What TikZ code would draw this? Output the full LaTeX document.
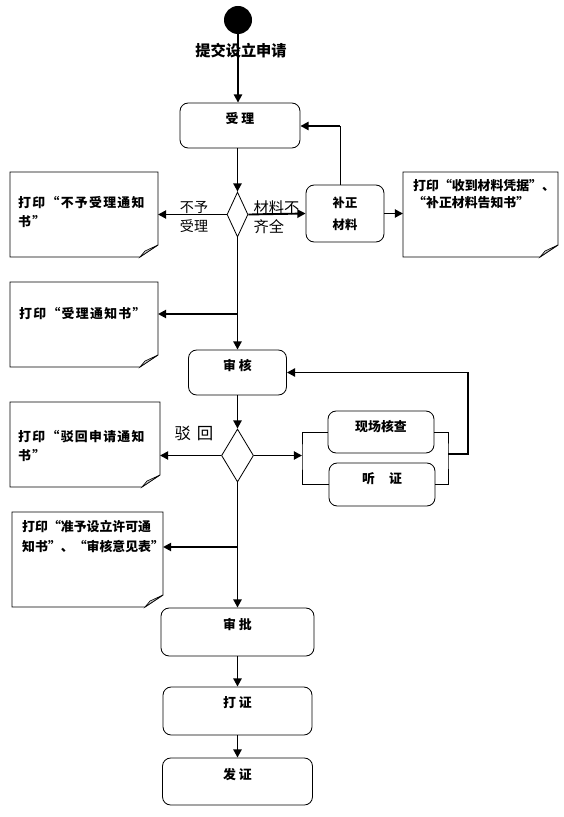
\documentclass[tikz,border=0pt]{standalone}
\usepackage{fontspec}
\setmainfont{Noto Sans CJK SC}
\newfontfamily\doctext[LetterSpace=10]{Noto Sans CJK SC}
\newfontfamily\doctight{Noto Sans CJK SC}
\usetikzlibrary{shapes.geometric, arrows.meta, calc}

\tikzset{
	box/.style={draw, line width=0.7pt, rounded corners=7pt, inner sep=0pt, font=\bfseries\fontsize{11}{13}\selectfont},
	proc/.style={box, text depth=#1},
	proc/.default=0.48cm,
	choice/.style={draw, diamond, line width=0.7pt, inner sep=0pt},
	arr/.style={line width=1.6pt, -{Triangle[length=7pt,width=7pt]}},
	thinline/.style={line width=0.8pt},
	doctxt/.style={anchor=north west, inner sep=0pt, align=left, font=\doctext\bfseries\fontsize{11}{16}\selectfont},
	doctxttight/.style={doctxt, font=\doctight\bfseries\fontsize{11}{#1}\selectfont},
}

\newcommand{\printdoc}[2]{%
	\draw[line width=0.7pt] (#1) -- (#1 -| #2) -- ($(#2)+(0,-12)$) -- ($(#2)+(-18,0)$) -- (#1 |- #2) -- cycle;
	\draw[line width=0.5pt, fill=gray!45] ($(#2)+(0,-12)$) -- ($(#2)+(-18,0)$) -- ($(#2)+(-13,-6)$) -- cycle;
}

\begin{document}
\begin{tikzpicture}[x=0.03cm, y=-0.03cm]
		\useasboundingbox (0,0) rectangle (563,817);
		
		\node[circle, fill, minimum size=0.84cm, inner sep=0pt] (start) at (238,20) {};
		\node[font=\bfseries\fontsize{13}{15}\selectfont] (apply) at (241,51) {提交设立申请};
		\node[proc, minimum width=3.6cm, minimum height=1.35cm] (shouli) at (240,125.5) {受\ 理};
		\node[choice, minimum width=0.63cm, minimum height=1.35cm] (dia1) at (237.5,214.5) {};
		\node[box, minimum width=2.34cm, minimum height=1.71cm, align=center, font=\bfseries\fontsize{10.5}{18.7}\selectfont] (buzheng) at (345,213.5) {补正\\材料};
		\node[font=\fontsize{12}{16}\selectfont, align=center] (refuse) at (194,217) {不予\\受理};
		\node[font=\fontsize{13}{16}\selectfont, align=left] (lack) at (276.5,217) {材料不\\齐全};
		
		\coordinate (d1tl) at (10,172);  \coordinate (d1br) at (158,257);
		\coordinate (d2tl) at (10,282);  \coordinate (d2br) at (158,367);
		\coordinate (d3tl) at (403,172); \coordinate (d3br) at (558,257);
		\coordinate (d4tl) at (10,402);  \coordinate (d4br) at (160,487);
		\coordinate (d5tl) at (12,512);  \coordinate (d5br) at (163,607);
		\printdoc{d1tl}{d1br}
		\printdoc{d2tl}{d2br}
		\printdoc{d3tl}{d3br}
		\printdoc{d4tl}{d4br}
		\printdoc{d5tl}{d5br}
		\node[doctxt] (t1) at (18,196.5) {打印“不予受理通知\\书”};
		\node[doctxt] (t2) at (19,307.5) {打印“受理通知书”};
		\node[doctxttight=14.5] (t3) at (413,179.5) {打印“收到材料凭据”、\\“补正材料告知书”};
		\node[doctxt] (t4) at (18,430.5) {打印“驳回申请通知\\书”};
		\node[doctxttight=16.5] (t5) at (22,520.5) {打印“准予设立许可通\\知书”、“审核意见表”};
		
		\node[proc=0.44cm, minimum width=2.94cm, minimum height=1.35cm] (shenhe) at (237.5,372.5) {审\ 核};
		\node[choice, minimum width=0.96cm, minimum height=1.59cm] (dia2) at (237.5,455.5) {};
		\node[font=\fontsize{14}{16}\selectfont] (reject) at (194,433) {驳\hspace{0.35em}回};
		\node[proc=0.36cm, minimum width=3.18cm, minimum height=1.26cm] (xianchang) at (381,432) {现场核查};
		\node[proc=0.4cm, minimum width=3.18cm, minimum height=1.29cm] (tingzheng) at (382,484.5) {听\hspace{1.1em}证};
		\node[proc=0.47cm, minimum width=4.59cm, minimum height=1.44cm] (shenpi) at (237.5,632) {审\ 批};
		\node[proc=0.53cm, minimum width=4.47cm, minimum height=1.44cm] (dazheng) at (237.5,711) {打\ 证};
		\node[proc=0.44cm, minimum width=4.5cm, minimum height=1.41cm] (fazheng) at (237.5,781.5) {发\ 证};
		
		\coordinate (fb1) at (340,126);
		\coordinate (b1) at (237.5,314);
		\coordinate (bl) at (302,455.5);
		\coordinate (br) at (448,454);
		\coordinate (fb2) at (468,454);
		\coordinate (b2) at (237.5,547);
		
		\draw[arr] (start.south) -- (start.south |- shouli.north);
		\draw[arr] (dia1 |- shouli.south) -- (dia1.north);
		\draw[arr] (dia1.west) -- (dia1.west -| d1br);
		\draw[arr] (dia1.east) -- (buzheng.west);
		\draw[arr] (buzheng.east) -- (buzheng.east -| d3tl);
		\draw[thinline] (fb1 |- buzheng.north) -- (fb1);
		\draw[arr] (fb1) -- (fb1 -| shouli.east);
		\draw[arr] (dia1.south) -- (shenhe.north);
		\draw[arr] (b1) -- (b1 -| d2br);
		\draw[arr] (shenhe.south) -- (dia2.north);
		\draw[arr] (dia2.west) -- (dia2.west -| d4br);
		\draw[arr] (dia2.east) -- (bl);
		\draw[thinline] (xianchang.west) -| (bl) |- (tingzheng.west);
		\draw[thinline] (xianchang.east) -| (br) |- (tingzheng.east);
		\draw[arr] (br) -- (fb2) |- (shenhe.east);
		\draw[arr] (dia2.south) -- (shenpi.north);
		\draw[arr] (b2) -- (b2 -| d5br);
		\draw[arr] (shenpi.south) -- (dazheng.north);
		\draw[arr] (dazheng.south) -- (fazheng.north);
	\end{tikzpicture}
\end{document}
